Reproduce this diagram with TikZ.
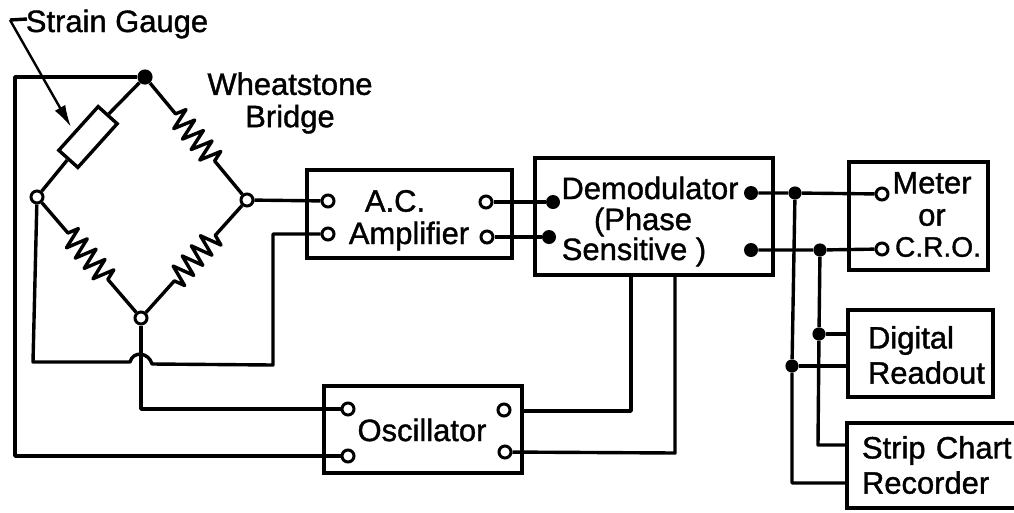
\documentclass[tikz,border=0pt]{standalone}
\usepackage{fontspec}
\setmainfont{Liberation Sans}
\newfontfamily\lblfont[FakeBold=1.2]{Liberation Sans}
\usetikzlibrary{arrows.meta,decorations.pathmorphing}
\tikzset{
  wire/.style={line width=0.85mm,line join=round},
  boxnd/.style={draw,line width=0.85mm,inner sep=0pt},
  tmo/.style={circle,draw,line width=0.75mm,fill=white,minimum size=3mm,inner sep=0pt},
  tmf/.style={circle,fill=black,minimum size=3.5mm,inner sep=0pt},
  jnc/.style={circle,fill=black,minimum size=3.3mm,inner sep=0pt},
  lbl/.style={font=\lblfont\fontsize{22}{23}\selectfont,inner sep=0pt,align=center},
  res/.style={wire,decorate,decoration={zigzag,amplitude=2.7mm,segment length=3.4mm,pre length=10mm,post length=10mm}},
}
\begin{document}
\begin{tikzpicture}[>=Latex,x=0.25mm,y=-0.25mm]
\useasboundingbox (0,0) rectangle (1014,512);
\node[tmf,minimum size=3.8mm] (brT) at (145,77) {};
\node[tmo] (brL) at (37,197) {};
\node[tmo] (brR) at (247,200) {};
\node[tmo] (brB) at (141,318) {};
\node[boxnd,minimum width=14.7mm,minimum height=6.4mm,rotate=48] (sg) at (88,137) {};
\node[boxnd,minimum width=51.2mm,minimum height=22mm] (amp) at (409.5,214) {};
\node[boxnd,minimum width=59.5mm,minimum height=29.2mm] (dem) at (654,216.5) {};
\node[boxnd,minimum width=49.5mm,minimum height=21.8mm] (osc) at (423,429.5) {};
\node[boxnd,minimum width=34.8mm,minimum height=27mm] (met) at (918.5,216) {};
\node[boxnd,minimum width=36.2mm,minimum height=21.8mm] (dig) at (920.5,353.5) {};
\node[boxnd,minimum width=43.5mm,minimum height=21.2mm] (rec) at (934,465.5) {};
\node[tmo] (amp0) at (328,201) {};
\node[tmo] (amp1) at (328,234) {};
\node[tmo] (amp2) at (486,202) {};
\node[tmo] (amp3) at (487,237) {};
\node[tmf] (dem0) at (553,202) {};
\node[tmf] (dem1) at (549,237) {};
\node[tmf] (dem2) at (751,193) {};
\node[tmf] (dem3) at (751,250) {};
\node[tmo] (osc0) at (348,409) {};
\node[tmo] (osc1) at (348,456) {};
\node[tmo] (osc2) at (504,410) {};
\node[tmo] (osc3) at (505,452) {};
\node[tmo] (met0) at (882,194) {};
\node[tmo] (met1) at (882,249) {};
\node[jnc] (jn0) at (795,193) {};
\node[jnc] (jn1) at (820,250) {};
\node[jnc] (jn2) at (819,334) {};
\node[jnc] (jn3) at (792,366) {};
\node[lbl] (tsg) at (117,24) {Strain Gauge};
\node[lbl] (twb) at (290,103) {Wheatstone\\Bridge};
\node[lbl] (tamp0) at (395,201) {A.C.};
\node[lbl] (tamp1) at (409,236) {Amplifier};
\node[lbl] (tdem0) at (650,188) {Demodulator};
\node[lbl] (tdem1) at (643,222) {(Phase};
\node[lbl] (tdem2) at (634,252) {Sensitive )};
\node[lbl] (tosc) at (422,430) {Oscillator};
\node[lbl] (tmet0) at (932,199) {Meter\\or};
\node[lbl,font=\lblfont\fontsize{20}{21}\selectfont] (tmet1) at (938,247) {C.R.O.};
\node[lbl,text width=33mm,align=left] (tdig) at (934,355) {Digital\\[2pt]Readout};
\node[lbl,text width=40mm,align=left] (trec) at (942,465) {Strip Chart\\[2pt]Recorder};
\coordinate (hk0) at (27,19);
\coordinate (hk1) at (10,20);
\coordinate (sgtip) at (71,127);
\coordinate (tl0) at (15,77);
\coordinate (tl1) at (15,456);
\coordinate (ll0) at (33,362);
\coordinate (hm0) at (130,362);
\coordinate (hm1) at (152,364);
\coordinate (ll1) at (273,365);
\coordinate (ll2) at (273,234);
\coordinate (bb0) at (141,409);
\coordinate (oe0) at (522,411);
\coordinate (oc0) at (631,411);
\coordinate (oc1) at (631,275);
\coordinate (oc2) at (675,453);
\coordinate (oc3) at (675,275);
\coordinate (vv0) at (792,483);
\coordinate (vv1) at (818,445);
\draw[wire] (brT) -- (sg.east);
\draw[wire] (sg.west) -- (brL);
\draw[res] (brT) -- (brR);
\draw[res] (brR) -- (brB);
\draw[res] (brL) -- (brB);
\draw[wire] (hk0) -- (hk1);
\draw[wire,line width=0.6mm,-{Latex[length=5.5mm,width=3mm]}] (hk1) -- (sgtip);
\draw[wire] (brT) -- (tl0) -- (tl1) -- (osc1);
\draw[wire] (brL) -- (ll0) -- (hm0) to[out=75,in=105,looseness=1.4] (hm1) -- (ll1) -- (ll2) -- (amp1);
\draw[wire] (brB) -- (bb0) -- (osc0);
\draw[wire] (brR) -- (amp0);
\draw[wire] (amp2) -- (dem0);
\draw[wire] (amp3) -- (dem1);
\draw[wire] (oe0) -- (oc0) -- (oc1);
\draw[wire] (osc3) -- (oc2) -- (oc3);
\draw[wire] (dem2) -- (jn0) -- (met0);
\draw[wire] (dem3) -- (jn1) -- (met1);
\draw[wire] (jn0) -- (jn3) -- (vv0) -- (vv0 -| rec.west);
\draw[wire] (jn1) -- (jn2) -- (vv1) -- (vv1 -| rec.west);
\draw[wire] (jn2) -- (jn2 -| dig.west);
\draw[wire] (jn3) -- (jn3 -| dig.west);
\end{tikzpicture}
\end{document}
